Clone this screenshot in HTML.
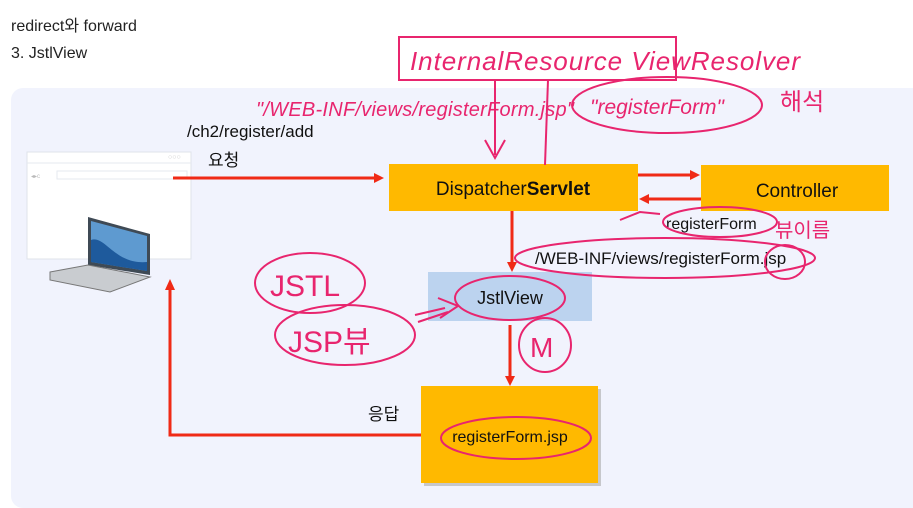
<!DOCTYPE html>
<html><head><meta charset="utf-8"><style>
body{margin:0;width:913px;height:508px;background:#fff;overflow:hidden;font-family:"Liberation Sans","Noto Sans CJK KR",sans-serif;}
</style></head><body>
<svg width="913" height="508" viewBox="0 0 913 508" xmlns="http://www.w3.org/2000/svg" style="position:absolute;left:0;top:0">
<text x="11" y="31" font-size="16" fill="#222" font-family="Liberation Sans, Noto Sans CJK KR, sans-serif">redirect와 forward</text>
<text x="11" y="58" font-size="16" fill="#222" font-family="Liberation Sans, Noto Sans CJK KR, sans-serif">3. JstlView</text>
<rect x="11" y="88" width="920" height="420" rx="12" fill="#f1f3fd"/>
<rect x="27" y="152" width="164" height="107" fill="#fff" stroke="#dfe3ea"/>
<line x1="27" y1="163" x2="191" y2="163" stroke="#e6e9ef"/>
<rect x="57" y="171" width="130" height="8" fill="#fff" stroke="#e6e9ef"/>
<text x="31" y="178" font-size="6" fill="#bbb">◂▸c</text>
<text x="168" y="159" font-size="7" fill="#ccc">○○○</text>
<polygon points="88,217 150,234 150,275 88,265" fill="#3f4a55"/>
<polygon points="91,221 147,236 147,271 91,262" fill="#5e9ad0"/>
<path d="M91,240 C105,235 115,265 147,262 L147,271 L91,262Z" fill="#1e5a9c"/>
<polygon points="50,272 88,265 150,277 110,292 50,280" fill="#c9ccd0" stroke="#777"/>
<rect x="389" y="164" width="249" height="47" fill="#ffb900"/>
<text x="513" y="195" font-size="19" text-anchor="middle" fill="#111">Dispatcher<tspan font-weight="bold">Servlet</tspan></text>
<rect x="701" y="165" width="188" height="46" fill="#ffb900"/>
<text x="797" y="197" font-size="19" text-anchor="middle" fill="#111">Controller</text>
<rect x="428" y="272" width="164" height="49" fill="#bcd3ef"/>
<text x="510" y="304" font-size="18" text-anchor="middle" fill="#111">JstlView</text>
<rect x="424" y="389" width="177" height="97" fill="#aaa" opacity="0.6"/>
<rect x="421" y="386" width="177" height="97" fill="#ffb900"/>
<text x="510" y="442" font-size="16" text-anchor="middle" fill="#111">registerForm.jsp</text>
<g stroke="#f02a16" stroke-width="3" fill="none">
<line x1="173" y1="178" x2="376" y2="178"/>
<line x1="638" y1="175" x2="692" y2="175"/>
<line x1="701" y1="199" x2="648" y2="199"/>
<line x1="512" y1="211" x2="512" y2="264"/>
<line x1="510" y1="325" x2="510" y2="378"/>
<polyline points="421,435 170,435 170,288"/>
</g>
<g fill="#f02a16">
<polygon points="384,178 374,173 374,183"/>
<polygon points="700,175 690,170 690,180"/>
<polygon points="639,199 649,194 649,204"/>
<polygon points="512,272 507,262 517,262"/>
<polygon points="510,386 505,376 515,376"/>
<polygon points="170,279 165,290 175,290"/>
</g>
<text x="187" y="137" font-size="17" fill="#111">/ch2/register/add</text>
<text x="208" y="166" font-size="17" fill="#111" font-family="Noto Sans CJK KR, sans-serif">요청</text>
<text x="368" y="420" font-size="17" fill="#111" font-family="Noto Sans CJK KR, sans-serif">응답</text>
<text x="666" y="229" font-size="16" fill="#111">registerForm</text>
<text x="535" y="264" font-size="17" fill="#111">/WEB-INF/views/registerForm.jsp</text>
<g stroke="#e8256e" stroke-width="2" fill="none">
<rect x="399" y="37" width="277" height="43"/>
<ellipse cx="667" cy="105" rx="95" ry="28"/>
<ellipse cx="720" cy="222" rx="57" ry="15"/>
<ellipse cx="665" cy="258" rx="150" ry="20"/>
<ellipse cx="785" cy="262" rx="20" ry="17"/>
<ellipse cx="310" cy="283" rx="55" ry="30"/>
<ellipse cx="345" cy="335" rx="70" ry="30"/>
<ellipse cx="510" cy="298" rx="55" ry="22"/>
<ellipse cx="545" cy="345" rx="26" ry="27"/>
<ellipse cx="516" cy="438" rx="75" ry="21"/>
<line x1="495" y1="80" x2="495" y2="155"/><polyline points="485,140 495,158 505,140"/>
<line x1="545" y1="165" x2="548" y2="80"/>
<polyline points="415,315 445,308"/><polyline points="418,322 448,312"/><polyline points="438,298 458,306 440,318"/>
<polyline points="620,220 640,212 660,214"/>
</g>
<g fill="#e8256e" font-family="Liberation Sans, Noto Sans CJK KR, sans-serif">
<text x="410" y="70" font-size="26" font-style="italic" textLength="390">InternalResource ViewResolver</text>
<text x="256" y="116" font-size="20" font-style="italic" textLength="318">"/WEB-INF/views/registerForm.jsp"</text>
<text x="590" y="114" font-size="21" font-style="italic">"registerForm"</text>
<text x="780" y="110" font-size="24">해석</text>
<text x="775" y="237" font-size="20">뷰이름</text>
<text x="270" y="296" font-size="30">JSTL</text>
<text x="288" y="352" font-size="30">JSP뷰</text>
<text x="530" y="357" font-size="28">M</text>
</g>
</svg>
</body></html>
